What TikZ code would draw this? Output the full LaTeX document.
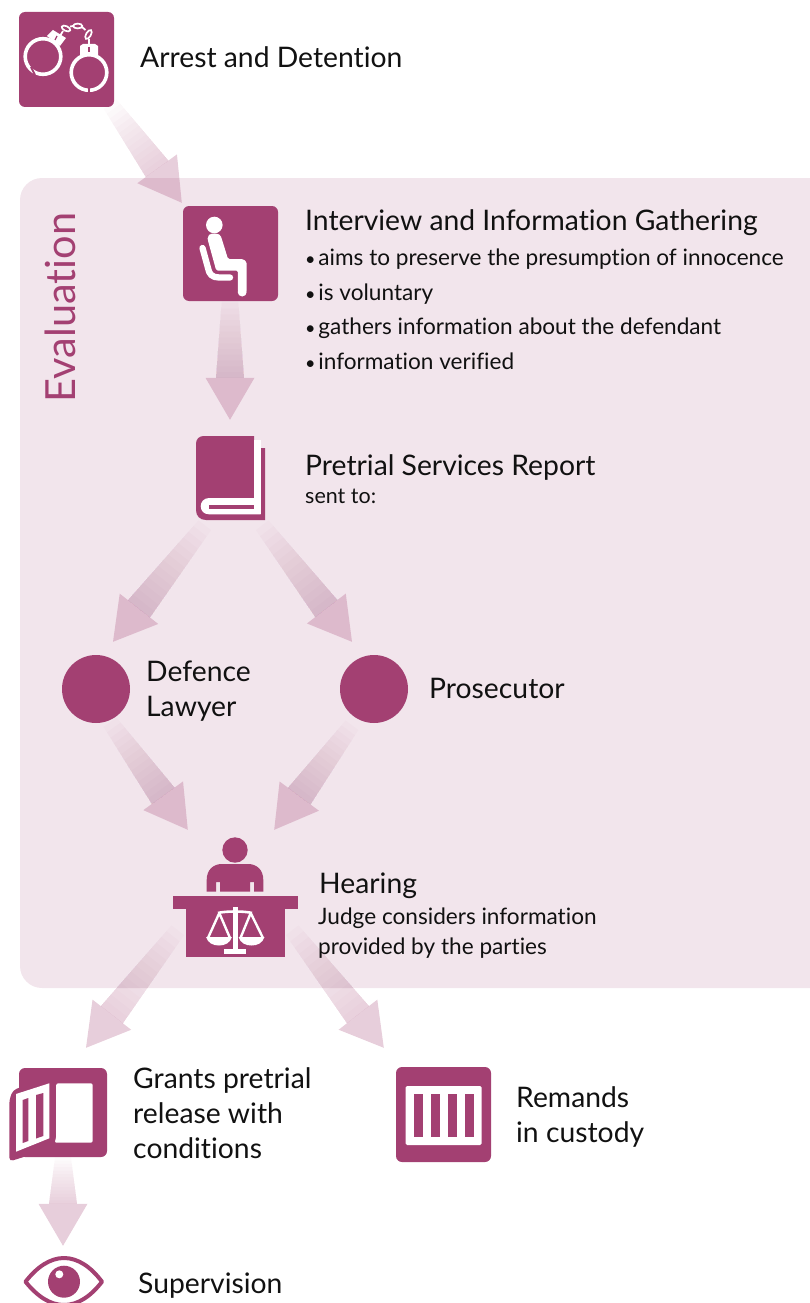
\documentclass[tikz,border=0pt]{standalone}
\usepackage{fontspec}
\setmainfont{Lato}[Ligatures=NoCommon]
\usetikzlibrary{calc}
\definecolor{brand}{HTML}{A34072}
\definecolor{panelc}{HTML}{F2E5EC}
\definecolor{inkc}{HTML}{111111}
\pgfdeclarelayer{back}
\pgfsetlayers{back,main}
\newcommand{\bul}{{\fontsize{18}{18}\selectfont •}\kern-3pt\ }
\tikzset{
  iconbox/.style={fill=brand,rounded corners=6pt,inner sep=0pt,minimum size=95pt},
  ghost/.style={inner sep=0pt,draw=none},
  lab/.style={anchor=base west,inner sep=0pt,text=inkc,align=left},
  big/.style={lab,font=\fontsize{28.3}{35}\selectfont},
  small/.style={lab,font=\fontsize{22.6}{29.5}\selectfont},
  tiny/.style={lab,font=\fontsize{21.5}{25}\selectfont},
}
\newcommand{\fadearrow}[2]{%
  \coordinate (aA) at #1;
  \coordinate (aB) at #2;
  \coordinate (aH) at ($(aB)!42pt!(aA)$);
  \foreach \t in {0,...,13}{%
    \pgfmathsetmacro{\f}{\t/14}%
    \pgfmathsetmacro{\w}{8+6*\f}%
    \coordinate (aS) at ($(aA)!\f!(aH)$);
    \fill[brand,opacity=.018] ($(aS)!\w pt!90:(aH)$) -- ($(aH)!14pt!-90:(aA)$) -- ($(aH)!14pt!90:(aA)$) -- ($(aS)!\w pt!-90:(aH)$) -- cycle;
  }
  \fill[brand,opacity=.26] ($(aH)!24.5pt!90:(aA)$) -- (aB) -- ($(aH)!24.5pt!-90:(aA)$) -- cycle;
}
\begin{document}
\begin{tikzpicture}[x=1pt,y=-1pt]
\useasboundingbox (0,0) rectangle (810,1303);
\clip (0,0) rectangle (810,1303);

% icon holders
\node[iconbox] (arrest) at (66.5,59.5) {};
\node[iconbox] (interview) at (230.5,253.5) {};
\node[ghost,minimum width=69pt,minimum height=84pt] (book) at (230.5,478) {};
\node[circle,fill=brand,inner sep=0pt,minimum size=68pt] (defence) at (96,689) {};
\node[circle,fill=brand,inner sep=0pt,minimum size=68pt] (prosecutor) at (374,689) {};
\node[ghost,minimum width=126pt,minimum height=120pt] (hearing) at (235,897) {};
\node[iconbox,minimum width=88pt,minimum height=89pt] (grant) at (63,1112.5) {};
\node[iconbox] (remand) at (443.5,1114.5) {};
\node[ghost,minimum width=81pt,minimum height=50pt] (eyeicon) at (64,1281) {};

\begin{pgfonlayer}{back}
\fill[panelc,rounded corners=22pt] (20,178) rectangle (860,988);
\fadearrow{($(arrest.south east)+(-4,-3)$)}{($(interview.north west)+(-1,-3)$)}
\fadearrow{($(interview.south)+(-0.5,-4)$)}{($(book.north)+(-0.5,-16)$)}
\fadearrow{($(book.south west)+(9,5)$)}{($(defence.north)+(17,-13)$)}
\fadearrow{($(book.south east)+(-3,5)$)}{($(prosecutor.north)+(-22,-13)$)}
\fadearrow{($(defence.south)+(14,-1)$)}{($(hearing.north west)+(16,-7)$)}
\fadearrow{($(prosecutor.south)+(-22,2)$)}{($(hearing.north east)+(-24,-7)$)}
\fadearrow{($(hearing.south west)+(6,-27)$)}{($(grant.north)+(23,-20)$)}
\fadearrow{($(hearing.south east)+(-6,-27)$)}{($(remand.north west)+(-12,-19)$)}
\fadearrow{(grant.south)}{($(eyeicon.north)+(-1,-10)$)}
\end{pgfonlayer}

% handcuffs
\draw[white,line width=3.6pt] (43,56.5) circle (17.8);
\draw[white,line width=3.6pt] (89,72.5) circle (17.8);
\draw[brand,line width=2pt] (31,67) -- (35,75);
\draw[brand,line width=2pt] (88.5,86) -- (88.5,95);
\fill[white] (47,36) -- (53,30) -- (66,38) -- (60,46) -- cycle;
\fill[white] (80,46) -- (83,44) -- (95,44) -- (98,46) -- (98,56) -- (80,56) -- cycle;
\draw[brand,line width=1.2pt] (57,36) -- (55,40);
\draw[brand,line width=1.2pt] (89,47) -- (89,52);
\draw[white,line width=1.7pt,rotate around={-25:(66,28.5)}] (66,28.5) ellipse (4.6 and 2.4);
\draw[white,line width=1.7pt] (77.7,26) ellipse (4.6 and 2.4);
\draw[white,line width=1.7pt,rotate around={60:(88.5,34.5)}] (88.5,34.5) ellipse (5 and 2.4);
\draw[white,line width=1.8pt] (60,36) -- (63,31) (70,26.5) -- (73.5,26) (82,27) -- (85.5,30) (89,39) -- (89,46);

% sitting person
\fill[white] (214.3,225) circle (8.3);
\fill[white,rounded corners=1.5pt] (246.7,292) -- (246.7,262) -- (243,259) -- (228,259) -- (221.5,238) .. controls (220.5,235) and (218,233.5) .. (214,233.5) .. controls (210,233.5) and (207.3,235.5) .. (207.8,240) -- (216.2,270.5) -- (237.8,270.5) -- (237.8,292) -- cycle;
\fill[white] (242.2,292) circle (4.5);
\draw[white,line width=6.3pt,line cap=round,line join=round] (202.5,248) -- (208,268) .. controls (209,274) and (212,277.5) .. (219,277.5) -- (230,277.5);

% book
\fill[brand] (204,436) -- (254,436) -- (254,448) -- (265,448) -- (265,520) -- (206,520) .. controls (200,520) and (196,516) .. (196,510) -- (196,444) .. controls (196,439) and (199,436) .. (204,436) -- cycle;
\fill[white] (254,440) rectangle (260.7,514.3);
\fill[white] (260.7,498) -- (209,498) .. controls (204,498) and (200.7,502) .. (200.7,506) .. controls (200.7,511) and (204,514.3) .. (209,514.3) -- (260.7,514.3) -- cycle;
\fill[brand] (208.5,505) rectangle (254,508.5);

% judge
\fill[brand] (235,850) circle (12.7);
\fill[brand] (206.7,891.7) -- (206.7,880) .. controls (206.7,870) and (213,864) .. (222,864) -- (248,864) .. controls (257,864) and (263.3,870) .. (263.3,880) -- (263.3,891.7) -- (254,891.7) -- (254,882) -- (250,882) -- (250,891.7) -- (220,891.7) -- (220,882) -- (216,882) -- (216,891.7) -- cycle;
\fill[brand] (172.7,896.3) rectangle (298,909);
\fill[brand] (186,909) rectangle (284.7,957);
\fill[white] (232.7,906.7) rectangle (238,950);
\fill[white] (224,949) rectangle (246,953.7);
\draw[white,line width=2.6pt] (218,913) .. controls (225,911) and (245,911) .. (252,913);
\draw[white,line width=2.4pt,line join=round] (208,938) -- (219.3,913) -- (230,938);
\draw[white,line width=2.4pt,line join=round] (240.5,938) -- (250.7,913) -- (263,938);
\fill[white] (206,937) -- (232,937) .. controls (230,943) and (225,945.5) .. (219,945.5) .. controls (213,945.5) and (208,943) .. (206,937) -- cycle;
\fill[white] (238.5,937) -- (264.5,937) .. controls (262.5,943) and (257.5,945.5) .. (251.5,945.5) .. controls (245.5,945.5) and (240.5,943) .. (238.5,937) -- cycle;

% open door
\fill[brand,rounded corners=4pt] (9.3,1161.5) -- (9.3,1100) -- (13,1090) -- (30,1084) -- (30,1155) -- cycle;
\fill[white,rounded corners=2pt] (56.2,1083.3) -- (92.7,1083.3) -- (92.7,1142.7) -- (54.5,1142.7) .. controls (55.5,1140) and (56.2,1137) .. (56.2,1134) -- cycle;
\fill[white] (16,1094) -- (49.3,1083.3) -- (49.3,1138.3) -- (16,1151.7) -- cycle;
\fill[brand] (22.7,1100) -- (28.3,1098) -- (28.3,1141) -- (22.7,1143) -- cycle;
\fill[brand] (36,1095) -- (43.3,1093) -- (43.3,1136) -- (36,1138.5) -- cycle;

% cell bars
\fill[white,rounded corners=1.5pt] (405.7,1086) rectangle (481.7,1145);
\foreach \bx in {414,431,448,465}{\fill[brand] (\bx,1094) rectangle ++(8.8,42.7);}

% eye
\draw[brand,line width=4pt,line join=round] (25.5,1281.7) .. controls (37,1267) and (50,1258) .. (64,1258) .. controls (78,1258) and (91,1267) .. (102,1281.7) .. controls (91,1296) and (78,1305) .. (64,1305) .. controls (50,1305) and (37,1296) .. (25.5,1281.7) -- cycle;
\fill[brand] (64,1281.7) circle (16);
\fill[white] (59.3,1274.3) circle (4);

% labels
\node[big] (t1) at (140,68) {Arrest and Detention};
\node[big] (t2) at (305,230) {Interview and Information Gathering};
\node[small] (b1) at (305,265) {\bul aims to preserve the presumption of innocence};
\node[small] (b2) at (305,300) {\bul is voluntary};
\node[small] (b3) at (305,334) {\bul gathers information about the defendant};
\node[small] (b4) at (305,369) {\bul information verified};
\node[big] (t3) at (305,475) {Pretrial Services Report};
\node[tiny] (t4) at (305,503) {sent to:};
\node[big] (t5) at (146,716) {Defence\\Lawyer};
\node[big] (t6) at (429,698) {Prosecutor};
\node[big] (t7) at (319,893) {Hearing};
\node[small] (t8) at (318,954) {Judge considers information\\provided by the parties};
\node[big] (t9) at (133,1158) {Grants pretrial\\release with\\conditions};
\node[big] (t10) at (516,1142) {Remands\\in custody};
\node[big] (t11) at (138,1293) {Supervision};
\node[anchor=base,rotate=90,inner sep=0pt,text=brand,font=\fontsize{41.5}{42}\selectfont] (t12) at (75,307.5) {Evaluation};
\end{tikzpicture}
\end{document}
